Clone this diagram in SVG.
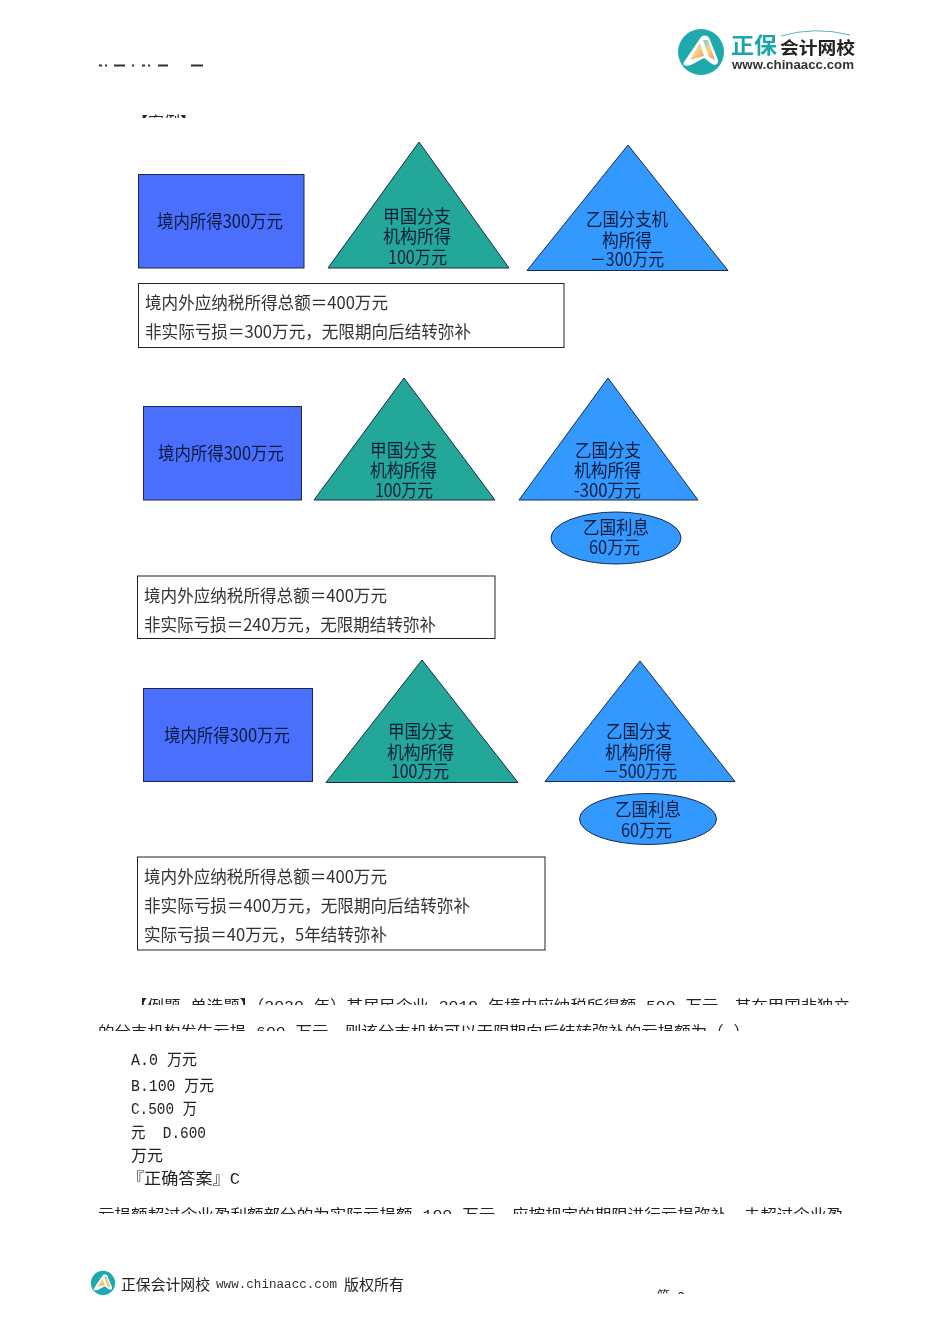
<svg xmlns="http://www.w3.org/2000/svg" width="950" height="1344" viewBox="0 0 950 1344">
<style>
text{font-family:"Noto Sans CJK SC","Liberation Sans",sans-serif;filter:url(#bl);}
.n{font-size:18px;fill:#0b1a3a;text-anchor:start;}
.b{font-size:17px;fill:#333;}
.s{stroke:#1a2a4a;stroke-width:1;}
.r{fill:#4a6ffd;}
.g{fill:#22a799;}
.u{fill:#3399ff;}
.w{fill:#fff;stroke:#222;stroke-width:1;}
.m{font-family:"Liberation Mono","Noto Sans CJK SC",monospace;fill:#222;font-size:16px;}
.c{font-family:"Liberation Mono","Noto Sans CJK SC",monospace;fill:#222;font-size:15px;}
</style>
<defs>
<filter id="bl" x="-5%" y="-20%" width="110%" height="140%"><feGaussianBlur stdDeviation="0.35"/></filter>
<clipPath id="c0"><rect x="130" y="113" width="70" height="5"/></clipPath>
<clipPath id="c1"><rect x="90" y="998" width="770" height="7"/></clipPath>
<clipPath id="c2"><rect x="90" y="1024" width="770" height="7"/></clipPath>
<clipPath id="c3"><rect x="90" y="1207" width="770" height="7"/></clipPath>
<clipPath id="c4"><rect x="650" y="1289" width="50" height="5"/></clipPath>
<linearGradient id="rb" x1="0" y1="0" x2="1" y2="1"><stop offset="0" stop-color="#7fc4e8"/><stop offset=".5" stop-color="#f3d67a"/><stop offset="1" stop-color="#ee8f7a"/></linearGradient>
<g id="lg"><circle cx="0" cy="0" r="23" fill="#1fa9ad"/><path d="M-17 10L0-15C4-18 8-16 9-12L17 8C18 12 14 14 11 12L3 6L-10 13C-15 15-19 13-17 10Z" fill="#fff"/><path d="M-11 8L-1-9L3 4Z" fill="url(#rb)"/><path d="M2-12L7-12L14 8L8 5Z" fill="url(#rb)"/></g>
</defs>

<g id="header-logo">
<use href="#lg" x="701" y="52"/>
<text x="731" y="53" font-size="22" font-weight="700" fill="#1fa5a8" textLength="46" lengthAdjust="spacingAndGlyphs">正保</text>
<text x="780" y="54" font-size="17" font-weight="700" fill="#222" textLength="75" lengthAdjust="spacingAndGlyphs">会计网校</text>
<text x="732" y="69" font-size="13" font-weight="700" fill="#333" style="font-family:'Liberation Sans',sans-serif" textLength="122" lengthAdjust="spacingAndGlyphs">www.chinaacc.com</text>
<path d="M781 36Q815 26 850 35" fill="none" stroke="#5bb8ba" stroke-width="1"/>
</g>
<path id="header-sliver" d="M99 65.5h3M105 65.5h2M114 65.5h11M132 65.5h2M142 65.5h3M148 65.5h2M158 65.5h10M191 65.5h12" stroke="#333" stroke-width="2" fill="none"/>
<text clip-path="url(#c0)" x="132" y="128" font-size="16" fill="#222" textLength="64" lengthAdjust="spacingAndGlyphs">【案例】</text>

<g id="connectors"/>

<g id="s1-rect"><rect class="r s" x="138.5" y="174.5" width="165.5" height="93.5"/><text class="n" x="157" y="228" textLength="126" lengthAdjust="spacingAndGlyphs">境内所得300万元</text></g>
<g id="s1-jia"><path class="g s" d="M419 142L509 268H328Z"/><text class="n" x="383" y="223" textLength="68" lengthAdjust="spacingAndGlyphs">甲国分支</text><text class="n" x="383" y="243" textLength="68" lengthAdjust="spacingAndGlyphs">机构所得</text><text class="n" x="388" y="264" textLength="59" lengthAdjust="spacingAndGlyphs">100万元</text></g>
<g id="s1-yi"><path class="u s" d="M628 145L728 270.5H527Z"/><text class="n" x="586" y="226" textLength="82" lengthAdjust="spacingAndGlyphs">乙国分支机</text><text class="n" x="602" y="247" textLength="50" lengthAdjust="spacingAndGlyphs">构所得</text><text class="n" x="590" y="266" textLength="74" lengthAdjust="spacingAndGlyphs">－300万元</text></g>
<g id="s1-box"><rect class="w" x="138.5" y="283.5" width="425.5" height="64"/><text class="b" x="145" y="309" textLength="243" lengthAdjust="spacingAndGlyphs">境内外应纳税所得总额＝400万元</text><text class="b" x="145" y="338" textLength="326" lengthAdjust="spacingAndGlyphs">非实际亏损＝300万元，无限期向后结转弥补</text></g>

<g id="s2-rect"><rect class="r s" x="143.5" y="406.5" width="158" height="93.5"/><text class="n" x="158" y="460" textLength="126" lengthAdjust="spacingAndGlyphs">境内所得300万元</text></g>
<g id="s2-jia"><path class="g s" d="M404 378L495 500H314Z"/><text class="n" x="370" y="457" textLength="67" lengthAdjust="spacingAndGlyphs">甲国分支</text><text class="n" x="370" y="477" textLength="67" lengthAdjust="spacingAndGlyphs">机构所得</text><text class="n" x="375" y="497" textLength="58" lengthAdjust="spacingAndGlyphs">100万元</text></g>
<g id="s2-yi"><path class="u s" d="M608 378L698 500H519Z"/><text class="n" x="575" y="457" textLength="66" lengthAdjust="spacingAndGlyphs">乙国分支</text><text class="n" x="574" y="477" textLength="67" lengthAdjust="spacingAndGlyphs">机构所得</text><text class="n" x="574" y="497" textLength="67" lengthAdjust="spacingAndGlyphs">-300万元</text></g>
<g id="s2-ell"><ellipse class="u s" cx="616" cy="538" rx="65" ry="26"/><text class="n" x="583" y="534" textLength="66" lengthAdjust="spacingAndGlyphs">乙国利息</text><text class="n" x="589" y="554" textLength="51" lengthAdjust="spacingAndGlyphs">60万元</text></g>
<g id="s2-box"><rect class="w" x="137.5" y="576" width="357.5" height="62.5"/><text class="b" x="144" y="602" textLength="243" lengthAdjust="spacingAndGlyphs">境内外应纳税所得总额＝400万元</text><text class="b" x="144" y="631" textLength="292" lengthAdjust="spacingAndGlyphs">非实际亏损＝240万元，无限期结转弥补</text></g>

<g id="s3-rect"><rect class="r s" x="143.5" y="688.5" width="169" height="93"/><text class="n" x="164" y="742" textLength="126" lengthAdjust="spacingAndGlyphs">境内所得300万元</text></g>
<g id="s3-jia"><path class="g s" d="M422 660L518 782.5H326Z"/><text class="n" x="388" y="738" textLength="66" lengthAdjust="spacingAndGlyphs">甲国分支</text><text class="n" x="387" y="759" textLength="67" lengthAdjust="spacingAndGlyphs">机构所得</text><text class="n" x="391" y="778" textLength="58" lengthAdjust="spacingAndGlyphs">100万元</text></g>
<g id="s3-yi"><path class="u s" d="M640 661L735 781.5H545Z"/><text class="n" x="606" y="738" textLength="66" lengthAdjust="spacingAndGlyphs">乙国分支</text><text class="n" x="605" y="759" textLength="67" lengthAdjust="spacingAndGlyphs">机构所得</text><text class="n" x="603" y="778" textLength="74" lengthAdjust="spacingAndGlyphs">－500万元</text></g>
<g id="s3-ell"><ellipse class="u s" cx="648" cy="819" rx="68.5" ry="25.5"/><text class="n" x="615" y="816" textLength="66" lengthAdjust="spacingAndGlyphs">乙国利息</text><text class="n" x="621" y="837" textLength="51" lengthAdjust="spacingAndGlyphs">60万元</text></g>
<g id="s3-box"><rect class="w" x="137.5" y="857" width="407.5" height="93"/><text class="b" x="144" y="883" textLength="243" lengthAdjust="spacingAndGlyphs">境内外应纳税所得总额＝400万元</text><text class="b" x="144" y="912" textLength="326" lengthAdjust="spacingAndGlyphs">非实际亏损＝400万元，无限期向后结转弥补</text><text class="b" x="144" y="941" textLength="243" lengthAdjust="spacingAndGlyphs">实际亏损＝40万元，5年结转弥补</text></g>

<g id="question">
<text class="c" clip-path="url(#c1)" x="131" y="1011" textLength="719" lengthAdjust="spacingAndGlyphs">【例题 单选题】（2020 年）某居民企业 2019 年境内应纳税所得额 500 万元，其在甲国非独立</text>
<text class="c" clip-path="url(#c2)" x="98" y="1037" textLength="652" lengthAdjust="spacingAndGlyphs">的分支机构发生亏损 600 万元，则该分支机构可以无限期向后结转弥补的亏损额为（ ）</text>
<text class="m" x="131" y="1065" textLength="66" lengthAdjust="spacingAndGlyphs">A.0 万元</text>
<text class="m" x="131" y="1091" textLength="83" lengthAdjust="spacingAndGlyphs">B.100 万元</text>
<text class="m" x="131" y="1114" textLength="66" lengthAdjust="spacingAndGlyphs">C.500 万</text>
<text class="m" x="131" y="1138" textLength="75" lengthAdjust="spacingAndGlyphs">元&#160;&#160;D.600</text>
<text class="m" x="131" y="1161" textLength="32" lengthAdjust="spacingAndGlyphs">万元</text>
<text class="m" x="127" y="1184" textLength="113" lengthAdjust="spacingAndGlyphs">『正确答案』C</text>
<text class="c" clip-path="url(#c3)" x="98" y="1220" textLength="745" lengthAdjust="spacingAndGlyphs">亏损额超过企业盈利额部分的为实际亏损额 100 万元，应按规定的期限进行亏损弥补。未超过企业盈</text>
</g>

<g id="footer">
<use href="#lg" transform="translate(103 1283) scale(.53)"/>
<text x="121" y="1290" font-size="15" fill="#222" textLength="89" lengthAdjust="spacingAndGlyphs">正保会计网校</text>
<text x="216" y="1288" font-size="12" fill="#333" style="font-family:'Liberation Mono',monospace" textLength="121" lengthAdjust="spacingAndGlyphs">www.chinaacc.com</text>
<text x="344" y="1290" font-size="15" fill="#222" textLength="60" lengthAdjust="spacingAndGlyphs">版权所有</text>
<text class="c" clip-path="url(#c4)" x="657" y="1302" textLength="28" lengthAdjust="spacingAndGlyphs">第 2</text>
</g>
</svg>
